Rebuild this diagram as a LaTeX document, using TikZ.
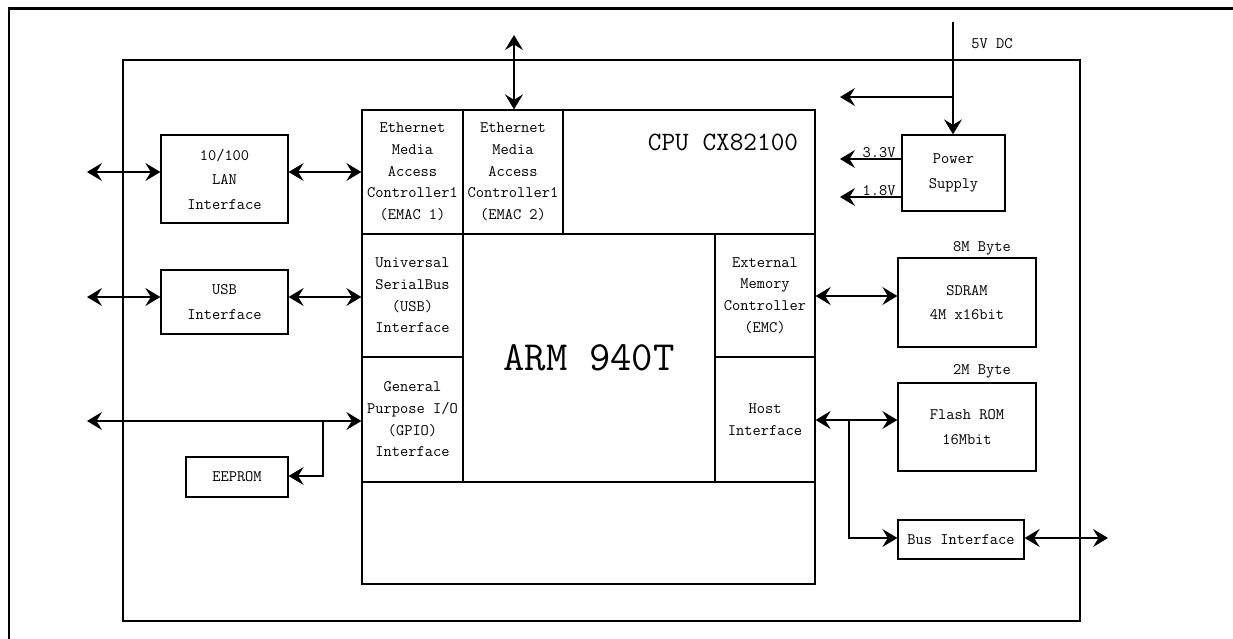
\documentclass[tikz,border=0pt]{standalone}
\usepackage{fontspec}
\usetikzlibrary{arrows.meta}
\begin{document}
\begin{tikzpicture}[x=1pt,y=-1pt,
  box/.style={draw, line width=1.3pt, inner sep=0pt, align=center, font=\ttfamily\fontsize{16}{24.5}\selectfont},
  cell/.style={box, font=\ttfamily\fontsize{16}{21.7}\selectfont},
  wire/.style={line width=1.3pt},
  arrowboth/.style={wire, {Stealth[length=15pt,width=18pt,inset=5.5pt]}-{Stealth[length=15pt,width=18pt,inset=5.5pt]}},
  arrowone/.style={wire, -{Stealth[length=15pt,width=18pt,inset=5.5pt]}},
  lbl/.style={inner sep=0pt, font=\ttfamily\fontsize{16}{17}\selectfont}]
\useasboundingbox (0,0) rectangle (1233,639);
% outer open frame
\draw[line width=2.5pt] (1233,8.5) -- (9,8.5) -- (9,639);
% inner board frame
\node[draw, line width=1.3pt, inner sep=0pt, minimum width=957pt, minimum height=561pt] (board) at (601.5,340.5) {};
% CPU
\node[box, minimum width=453pt, minimum height=474pt] (cpu) at (588.5,347) {};
\node[lbl, font=\ttfamily\fontsize{26.5}{28}\selectfont] (cputitle) at (723,142) {CPU CX82100};
\node[cell, minimum width=101pt, minimum height=124pt] (emac1) at (412.5,172) {Ethernet\\Media\\Access\\Controller1\\(EMAC 1)};
\node[cell, minimum width=100pt, minimum height=124pt] (emac2) at (513,172) {Ethernet\\Media\\Access\\Controller1\\(EMAC 2)};
\node[cell, minimum width=101pt, minimum height=123pt] (usbc) at (412.5,295.5) {Universal\\SerialBus\\(USB)\\Interface};
\node[cell, minimum width=101pt, minimum height=125pt] (gpio) at (412.5,419.5) {General\\Purpose I/O\\(GPIO)\\Interface};
\node[box, minimum width=252pt, minimum height=248pt, font=\ttfamily\fontsize{41.5}{44}\selectfont] (arm) at (589,358) {ARM 940T};
\node[cell, minimum width=100pt, minimum height=123pt] (emc) at (765,295.5) {External\\Memory\\Controller\\(EMC)};
\node[cell, minimum width=100pt, minimum height=125pt] (host) at (765,419.5) {Host\\Interface};
% left peripherals
\node[box, minimum width=127pt, minimum height=88pt] (lan) at (224.5,179) {10/100\\LAN\\Interface};
\node[box, minimum width=127pt, minimum height=64pt] (usbif) at (224.5,302) {USB\\Interface};
\node[box, minimum width=102pt, minimum height=40pt] (eeprom) at (237,477) {EEPROM};
% right peripherals
\node[box, minimum width=103pt, minimum height=76pt] (power) at (953.5,173) {Power\\Supply};
\node[box, minimum width=138pt, minimum height=89pt] (sdram) at (967,302.5) {SDRAM\\4M x16bit};
\node[box, minimum width=138pt, minimum height=88pt] (flash) at (967,427) {Flash ROM\\16Mbit};
\node[box, minimum width=126pt, minimum height=39pt] (bus) at (961,539.5) {Bus Interface};
% labels
\node[lbl] (v5) at (992,44) {5V DC};
\node[lbl, anchor=south] (v33) at (879,158) {3.3V};
\node[lbl, anchor=south] (v18) at (879,196) {1.8V};
\node[lbl, anchor=south] (sdsize) at (982,255) {8M Byte};
\node[lbl, anchor=south] (flsize) at (982,378) {2M Byte};
% free ends and junctions
\coordinate (lanL) at (87,172);
\coordinate (usbL) at (87,297);
\coordinate (gpioL) at (87,421);
\coordinate (gJ) at (323,421);
\coordinate (gK) at (323,476);
\coordinate (emacT) at (514,35);
\coordinate (pwrT) at (953,22);
\coordinate (pJ) at (953,97);
\coordinate (pL) at (840,97);
\coordinate (p33) at (840,159);
\coordinate (p18) at (840,197);
\coordinate (hJ) at (849,420);
\coordinate (busR) at (1108,538);
% connectors
\draw[arrowboth] (lanL) -- (lanL -| lan.west);
\draw[arrowboth] (lanL -| lan.east) -- (lanL -| emac1.west);
\draw[arrowboth] (usbL) -- (usbL -| usbif.west);
\draw[arrowboth] (usbL -| usbif.east) -- (usbL -| usbc.west);
\draw[arrowboth] (gpioL) -- (gpioL -| gpio.west);
\draw[arrowone] (gJ) -- (gK) -- (gK -| eeprom.east);
\draw[arrowboth] (emacT) -- (emacT |- emac2.north);
\draw[arrowone] (pwrT) -- (pwrT |- power.north);
\draw[arrowone] (pJ) -- (pL);
\draw[arrowone] (p33 -| power.west) -- (p33);
\draw[arrowone] (p18 -| power.west) -- (p18);
\draw[arrowboth] (emc.east |- 0,296) -- (sdram.west |- 0,296);
\draw[arrowboth] (hJ -| host.east) -- (hJ -| flash.west);
\draw[arrowone] (hJ) |- (busR -| bus.west);
\draw[arrowboth] (busR -| bus.east) -- (busR);
\end{tikzpicture}
\end{document}
